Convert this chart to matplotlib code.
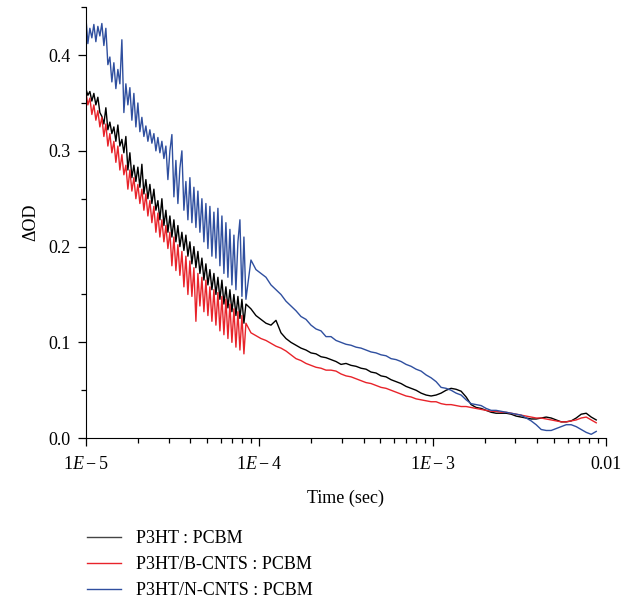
import numpy as np
import matplotlib
matplotlib.use("Agg")
import matplotlib.pyplot as plt
from matplotlib.ticker import FixedLocator, FixedFormatter, MultipleLocator, LogLocator

# sample times (s): dense noisy part, then the smoother tail
t_noisy = np.logspace(-5.0, -4.077, 81)
t_tail = np.logspace(-4.048, -2.057, 70)
time = np.concatenate([t_noisy, t_tail])

# P3HT : PCBM
od_ref = [
    0.365, 0.358, 0.362, 0.352, 0.360, 0.348, 0.356, 0.340, 0.336, 0.328,
    0.345, 0.322, 0.330, 0.318, 0.325, 0.310, 0.327, 0.305, 0.312, 0.298,
    0.315, 0.280, 0.298, 0.272, 0.285, 0.268, 0.283, 0.262, 0.286, 0.255,
    0.270, 0.250, 0.265, 0.245, 0.260, 0.238, 0.248, 0.228, 0.250, 0.222,
    0.238, 0.215, 0.232, 0.210, 0.228, 0.205, 0.222, 0.200, 0.215, 0.196,
    0.212, 0.190, 0.205, 0.182, 0.200, 0.178, 0.195, 0.172, 0.188, 0.165,
    0.182, 0.160, 0.176, 0.155, 0.172, 0.150, 0.168, 0.145, 0.165, 0.140,
    0.158, 0.136, 0.155, 0.132, 0.150, 0.128, 0.148, 0.125, 0.145, 0.120,
    0.140,
    0.135, 0.128, 0.124, 0.120, 0.118, 0.123, 0.110, 0.104, 0.100, 0.097,
    0.094, 0.092, 0.089, 0.088, 0.085, 0.084, 0.082, 0.080, 0.077, 0.078,
    0.076, 0.075, 0.073, 0.072, 0.069, 0.068, 0.065, 0.064, 0.061, 0.059,
    0.057, 0.054, 0.052, 0.050, 0.047, 0.045, 0.044, 0.045, 0.047, 0.050,
    0.052, 0.051, 0.049, 0.043, 0.035, 0.032, 0.031, 0.029, 0.027, 0.026,
    0.026, 0.026, 0.025, 0.023, 0.022, 0.021, 0.020, 0.020, 0.021, 0.022,
    0.021, 0.019, 0.017, 0.017, 0.018, 0.021, 0.025, 0.026, 0.022, 0.019,
]

# P3HT/B-CNTS : PCBM
od_b = [
    0.362, 0.348, 0.355, 0.338, 0.348, 0.332, 0.342, 0.325, 0.335, 0.315,
    0.328, 0.305, 0.318, 0.298, 0.310, 0.288, 0.305, 0.280, 0.296, 0.275,
    0.285, 0.260, 0.280, 0.258, 0.272, 0.250, 0.265, 0.245, 0.260, 0.238,
    0.255, 0.232, 0.248, 0.225, 0.242, 0.215, 0.235, 0.210, 0.228, 0.205,
    0.222, 0.198, 0.215, 0.180, 0.210, 0.175, 0.202, 0.170, 0.195, 0.158,
    0.190, 0.150, 0.185, 0.148, 0.178, 0.122, 0.172, 0.138, 0.168, 0.132,
    0.165, 0.128, 0.158, 0.122, 0.155, 0.118, 0.152, 0.112, 0.148, 0.108,
    0.145, 0.104, 0.140, 0.100, 0.135, 0.095, 0.132, 0.092, 0.128, 0.088,
    0.120,
    0.110, 0.107, 0.104, 0.102, 0.099, 0.096, 0.094, 0.091, 0.087, 0.083,
    0.081, 0.078, 0.076, 0.074, 0.073, 0.071, 0.071, 0.070, 0.067, 0.065,
    0.064, 0.062, 0.060, 0.058, 0.057, 0.055, 0.053, 0.052, 0.050, 0.048,
    0.046, 0.044, 0.043, 0.041, 0.040, 0.039, 0.038, 0.038, 0.036, 0.035,
    0.035, 0.034, 0.033, 0.033, 0.032, 0.031, 0.030, 0.029, 0.028, 0.028,
    0.027, 0.027, 0.026, 0.025, 0.024, 0.023, 0.022, 0.021, 0.021, 0.020,
    0.019, 0.018, 0.017, 0.017, 0.018, 0.019, 0.021, 0.022, 0.019, 0.016,
]

# P3HT/N-CNTS : PCBM
od_n = [
    0.440, 0.412, 0.428, 0.418, 0.432, 0.414, 0.430, 0.420, 0.433, 0.410,
    0.428, 0.390, 0.398, 0.372, 0.392, 0.365, 0.385, 0.370, 0.416, 0.340,
    0.370, 0.348, 0.366, 0.332, 0.360, 0.325, 0.350, 0.320, 0.335, 0.315,
    0.326, 0.310, 0.322, 0.308, 0.318, 0.300, 0.314, 0.298, 0.310, 0.292,
    0.305, 0.270, 0.300, 0.317, 0.252, 0.290, 0.245, 0.282, 0.300, 0.238,
    0.268, 0.228, 0.272, 0.225, 0.262, 0.220, 0.258, 0.215, 0.250, 0.205,
    0.245, 0.198, 0.242, 0.190, 0.236, 0.188, 0.240, 0.180, 0.232, 0.172,
    0.225, 0.168, 0.218, 0.160, 0.212, 0.155, 0.205, 0.228, 0.148, 0.210,
    0.145,
    0.186, 0.176, 0.172, 0.168, 0.160, 0.155, 0.150, 0.143, 0.138, 0.133,
    0.127, 0.124, 0.118, 0.114, 0.112, 0.106, 0.106, 0.102, 0.100, 0.098,
    0.097, 0.095, 0.094, 0.092, 0.090, 0.089, 0.087, 0.086, 0.083, 0.082,
    0.080, 0.077, 0.075, 0.072, 0.070, 0.066, 0.063, 0.059, 0.053, 0.052,
    0.050, 0.047, 0.045, 0.040, 0.036, 0.035, 0.034, 0.031, 0.029, 0.029,
    0.028, 0.027, 0.026, 0.025, 0.024, 0.021, 0.018, 0.014, 0.009, 0.008,
    0.008, 0.010, 0.012, 0.014, 0.014, 0.012, 0.009, 0.006, 0.004, 0.007,
]

labels = ["P3HT : PCBM", "P3HT/B-CNTS : PCBM", "P3HT/N-CNTS : PCBM"]
colors = ["#000000", "#e8232a", "#2f4f9f"]
legend_colors = ["#444444", "#e8232a", "#2f4f9f"]

x_ticks = [1e-5, 1e-4, 1e-3, 1e-2]
x_ticklabels = [r"$1E-5$", r"$1E-4$", r"$1E-3$", "0.01"]

plt.rcParams["font.family"] = "Liberation Serif"
plt.rcParams["mathtext.fontset"] = "custom"
plt.rcParams["mathtext.rm"] = "Liberation Serif"
plt.rcParams["mathtext.it"] = "Liberation Serif:italic"

fig = plt.figure(figsize=(6.36, 6.01), dpi=100)
ax = fig.add_axes([0.135, 0.271, 0.818, 0.717])

for y, c in zip([od_ref, od_b, od_n], colors):
    ax.plot(time, y, color=c, linewidth=1.0)

ax.set_xscale("log")
ax.set_xlim(1e-5, 1e-2)
ax.set_ylim(0, 0.45)
ax.xaxis.set_major_locator(FixedLocator(x_ticks))
ax.xaxis.set_major_formatter(FixedFormatter(x_ticklabels))
ax.xaxis.set_minor_locator(LogLocator(base=10, subs=np.arange(2, 10)))
ax.yaxis.set_major_locator(MultipleLocator(0.1))
ax.yaxis.set_minor_locator(MultipleLocator(0.05))
ax.yaxis.set_major_formatter(matplotlib.ticker.FormatStrFormatter("%.1f"))

for side in ["top", "right"]:
    ax.spines[side].set_visible(False)
ax.tick_params(which="major", direction="out", length=6, width=0.9, labelsize=13)
ax.tick_params(which="minor", direction="out", length=3.5, width=0.9)
ax.tick_params(axis="x", pad=7)
ax.tick_params(axis="y", pad=5)

ax.set_xlabel("Time (sec)", fontsize=13, labelpad=12)
ax.set_ylabel("ΔOD", fontsize=13, labelpad=6)

handles = [plt.Line2D([], [], color=c, linewidth=1.0) for c in legend_colors]
fig.legend(handles, labels, loc="upper left", bbox_to_anchor=(0.137, 0.118),
           frameon=False, fontsize=13, handlelength=1.9, handletextpad=0.8,
           labelspacing=0.5, borderpad=0, borderaxespad=0)

plt.savefig("out.png", dpi=100)
plt.close()
